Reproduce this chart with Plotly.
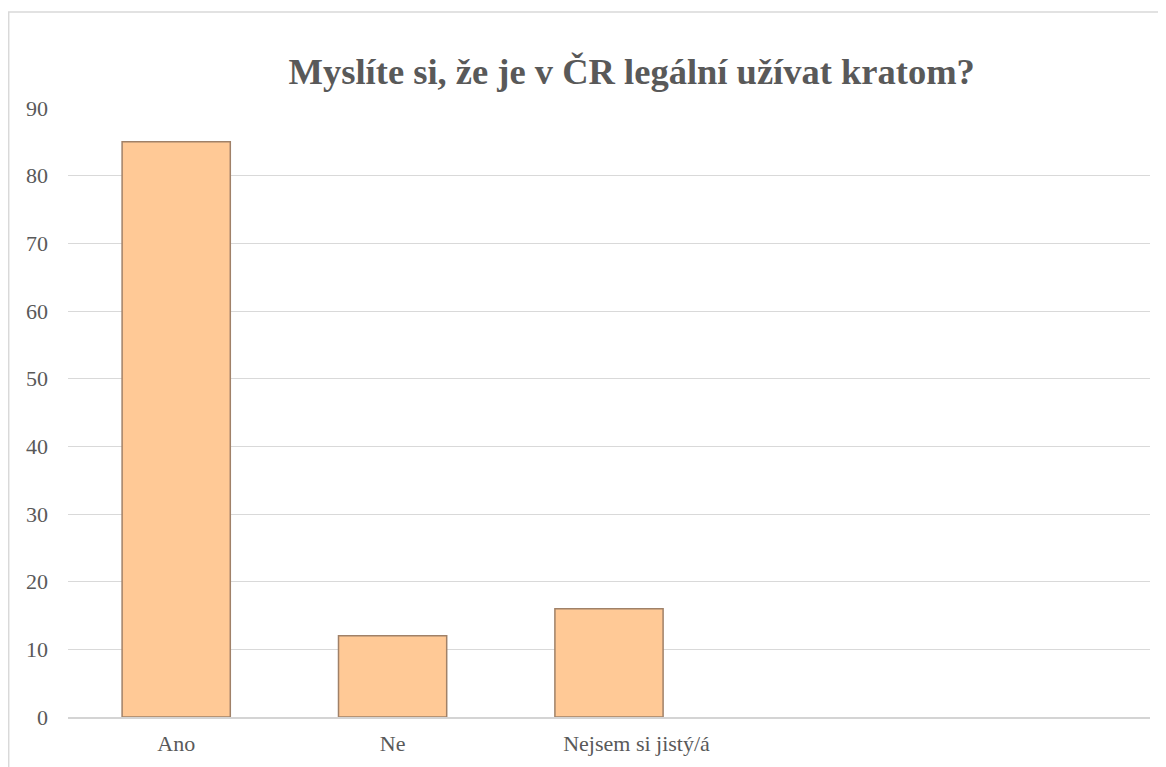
import plotly.graph_objects as go

categories = ['Ano', 'Ne', 'Nejsem si jistý/á']
counts = [85, 12, 16]
y_ticks = [0, 10, 20, 30, 40, 50, 60, 70, 80, 90]

# the third label sits a bit right of its bar in the original
tick_labels = categories[:2] + ['\u00a0' * 10 + categories[2]]

fig = go.Figure()

# bars with a darker outline to hint the bevel look
fig.add_trace(go.Bar(x=categories,
                     y=counts,
                     marker=dict(color='#FFC996',
                                 line=dict(color='#a08168', width=1.5)),
                     width=0.5))

fig.update_layout(width=1166, height=767,
                  paper_bgcolor='white',
                  plot_bgcolor='white',
                  margin=dict(l=60, r=24, t=100, b=58),
                  showlegend=False,
                  font=dict(family='Liberation Serif, Times New Roman, serif', color='#595959', size=22),
                  title=dict(text='<b>Myslíte si, že je v ČR legální užívat kratom?</b>',
                             font=dict(family='Liberation Serif, Times New Roman, serif', size=36.5, color='#595959'),
                             x=0.521, xref='paper', xanchor='center',
                             y=0.918, yref='container', yanchor='middle'))

fig.update_xaxes(range=[-0.5, 4.5],
                 tickvals=categories, ticktext=tick_labels,
                 showgrid=False,
                 showline=True, linecolor='#d4d4d4', linewidth=1.5,
                 ticks='', ticklabelstandoff=6,
                 tickfont=dict(size=22, color='#595959'))

fig.update_yaxes(range=[0, 90],
                 tickvals=y_ticks,
                 showgrid=True, gridcolor='#d9d9d9', gridwidth=1.2,
                 zeroline=False,
                 ticks='', ticklabelstandoff=19,
                 tickfont=dict(size=22, color='#595959'))

# outer chart-area border, running off the right and bottom edges
fig.add_shape(type='rect', xref='paper', yref='paper',
              x0=-0.0548, x1=1.05, y0=-0.15, y1=1.1576,
              line=dict(color='#d9d9d9', width=1.5), layer='below')

fig.write_html('out.html')
